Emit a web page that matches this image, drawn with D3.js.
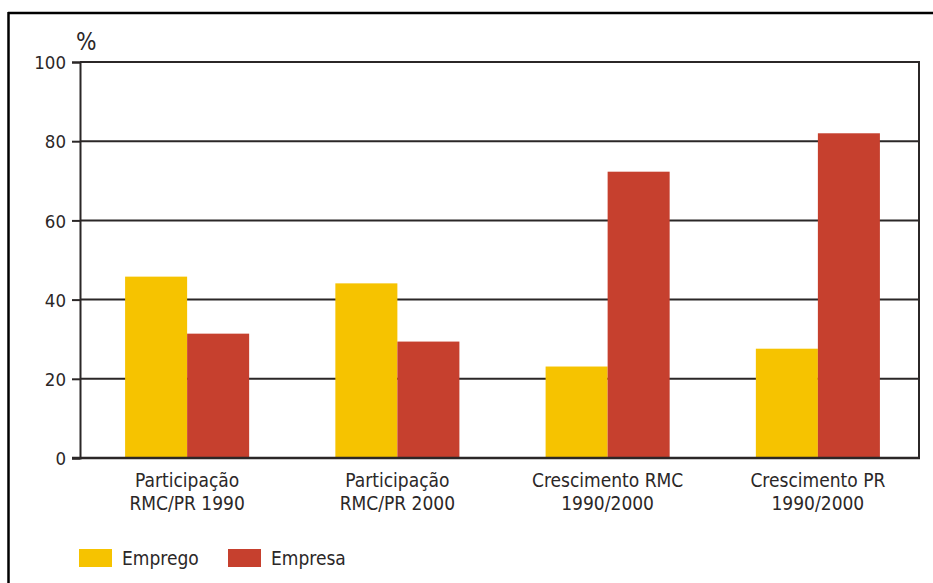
<!DOCTYPE html>
<html>
<head>
<meta charset="utf-8">
<script src="https://cdn.jsdelivr.net/npm/d3@7"></script>
<style>
  html, body { margin: 0; padding: 0; background: #fff; }
  svg { display: block; }
  text { font-family: "DejaVu Sans Condensed", "DejaVu Sans", sans-serif; font-stretch: condensed; fill: #2b2727; }
</style>
</head>
<body>
<svg id="chart" width="933" height="583"></svg>
<script>
const categories = [
  ["Participação", "RMC/PR 1990"],
  ["Participação", "RMC/PR 2000"],
  ["Crescimento RMC", "1990/2000"],
  ["Crescimento PR", "1990/2000"]
];
const seriesNames = ["Emprego", "Empresa"];
const emprego = [45.8, 44.1, 23.1, 27.6];
const empresa = [31.4, 29.4, 72.3, 82.0];
const yTicks = [0, 20, 40, 60, 80, 100];
const colors = ["#f6c300", "#c6402e"];

(function () {
const svg = d3.select("#chart");
const pLeft = 80, pRight = 919, pTop = 62, pBottom = 458;
const ink = "#2b2727";

// outer frame (top and left)
svg.append("line").attr("x1", 8).attr("x2", 933).attr("y1", 13).attr("y2", 13)
  .attr("stroke", "#000").attr("stroke-width", 2.5);
svg.append("line").attr("x1", 8.5).attr("x2", 8.5).attr("y1", 12).attr("y2", 583)
  .attr("stroke", "#000").attr("stroke-width", 2.5);

const y = d3.scaleLinear().domain([0, 100]).range([pBottom, pTop]);
const keys = categories.map((c, i) => i);
const x0 = d3.scaleBand().domain(keys).range([pLeft + 2, pRight + 4]).paddingInner(0.41).paddingOuter(0.205);
const x1 = d3.scaleBand().domain(seriesNames).range([0, x0.bandwidth()]);

// gridlines
svg.append("g").selectAll("line").data(yTicks.filter(t => t > 0)).join("line")
  .attr("x1", pLeft).attr("x2", pRight)
  .attr("y1", d => y(d)).attr("y2", d => y(d))
  .attr("stroke", ink).attr("stroke-width", 2);

// right border
svg.append("line").attr("x1", pRight).attr("x2", pRight).attr("y1", pTop - 1).attr("y2", pBottom + 1)
  .attr("stroke", ink).attr("stroke-width", 2);

// bars
const data = keys.map(i => ({ i, values: [emprego[i], empresa[i]] }));
const groups = svg.append("g").selectAll("g").data(data).join("g")
  .attr("transform", d => `translate(${x0(d.i)},0)`);
groups.selectAll("rect").data(d => d.values.map((v, k) => ({ k, v }))).join("rect")
  .attr("x", d => x1(seriesNames[d.k]))
  .attr("width", x1.bandwidth())
  .attr("y", d => y(d.v))
  .attr("height", d => y(0) - y(d.v))
  .attr("fill", d => colors[d.k]);

// y axis
const yAxis = svg.append("g").attr("transform", `translate(${pLeft},0)`)
  .call(d3.axisLeft(y).tickValues(yTicks).tickSize(8).tickPadding(6));
yAxis.attr("font-family", null).attr("font-size", null);
yAxis.select(".domain").attr("stroke", ink).attr("stroke-width", 2);
yAxis.selectAll(".tick line").attr("stroke", ink).attr("stroke-width", 2);
yAxis.selectAll(".tick text").attr("font-size", 18.5).attr("dy", "0.36em").attr("fill", ink);

// x axis baseline
svg.append("line").attr("x1", pLeft - 8).attr("x2", pRight + 1).attr("y1", y(0)).attr("y2", y(0))
  .attr("stroke", ink).attr("stroke-width", 2.5);

// % label
svg.append("text").attr("x", 76).attr("y", 50).attr("font-size", 24).text("%");

// category labels
const labels = svg.append("g").selectAll("text").data(data).join("text")
  .attr("text-anchor", "middle")
  .attr("font-size", 19)
  .attr("x", d => x0(d.i) + x0.bandwidth() / 2);
labels.selectAll("tspan").data(d => categories[d.i]).join("tspan")
  .attr("x", function () { return d3.select(this.parentNode).attr("x"); })
  .attr("y", (d, j) => 487 + j * 23)
  .text(d => d);

// legend
const legendX = [79, 228];
const leg = svg.append("g").selectAll("g").data(seriesNames).join("g")
  .attr("transform", (d, i) => `translate(${legendX[i]},549)`);
leg.append("rect").attr("width", 33).attr("height", 18).attr("fill", (d, i) => colors[i]);
leg.append("text").attr("x", 43).attr("y", 16).attr("font-size", 19).text(d => d);
})();
</script>
</body>
</html>
